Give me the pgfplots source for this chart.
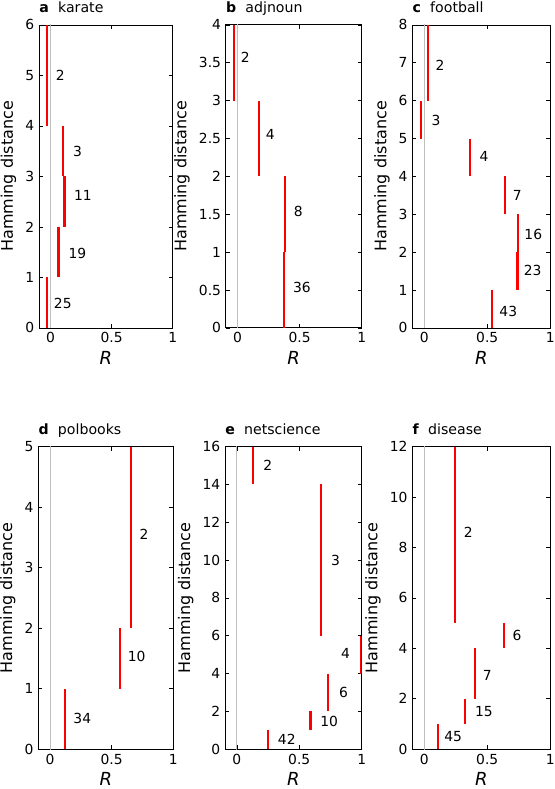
\documentclass[border=0pt]{standalone}
\usepackage{fontspec}
\setmainfont{DejaVu Sans}
\usepackage{pgfplots}
\usepackage{pgfplotstable}
\pgfplotsset{compat=1.18}
\definecolor{zeroline}{RGB}{190,190,190}

% segments: x, lower and upper Hamming distance
% labels: label text, label position
\pgfplotstableread{
x ylo yhi
-0.03 4 6
0.098 3 4
0.114 2 3
0.065 1 2
-0.03 0 1
}\karateseg
\pgfplotstableread{
lab lx ly
2 0.079 5.0
3 0.22 3.5
11 0.265 2.62
19 0.22 1.47
25 0.10 0.48
}\karatelab
\pgfplotstableread{
x ylo yhi
-0.027 3 4
0.175 2 3
0.383 1 2
0.375 0 1
}\adjnounseg
\pgfplotstableread{
lab lx ly
2 0.062 3.57
4 0.263 2.55
8 0.49 1.535
36 0.518 0.537
}\adjnounlab
\pgfplotstableread{
x ylo yhi
0.027 6 8
-0.026 5 6
0.365 4 5
0.64 3 4
0.746 2 3
0.74 1 2
0.54 0 1
}\footballseg
\pgfplotstableread{
lab lx ly
2 0.125 6.94
3 0.093 5.49
4 0.474 4.52
7 0.738 3.49
16 0.865 2.47
23 0.86 1.53
43 0.667 0.43
}\footballlab
\pgfplotstableread{
x ylo yhi
0.654 2 5
0.565 1 2
0.12 0 1
}\polbooksseg
\pgfplotstableread{
lab lx ly
2 0.762 3.55
10 0.703 1.54
34 0.262 0.51
}\polbookslab
\pgfplotstableread{
x ylo yhi
0.131 14 16
0.677 6 14
0.992 4 6
0.73 2 4
0.59 1 2
0.247 0 1
}\netsciseg
\pgfplotstableread{
lab lx ly
2 0.247 15
3 0.79 9.96
4 0.87 5.08
6 0.855 2.99
10 0.74 1.46
42 0.40 0.53
}\netscilab
\pgfplotstableread{
x ylo yhi
0.241 5 12
0.63 4 5
0.405 2 4
0.323 1 2
0.106 0 1
}\diseaseseg
\pgfplotstableread{
lab lx ly
2 0.35 8.59
6 0.736 4.5
7 0.5 2.92
15 0.474 1.48
45 0.23 0.5
}\diseaselab

\pgfplotsset{
  panel/.style={
    scale only axis,
    anchor=south west,
    xmin=-0.095, xmax=1,
    xtick={0,0.5,1},
    xticklabels={0,0.5,1},
    tick align=inside,
    major tick length=3pt,
    axis line style={line width=0.6pt},
    every tick/.style={black, line width=0.5pt},
    /pgf/number format/assume math mode=true,
    tick label style={font=\fontsize{10.4}{12}\selectfont},
    xlabel={\textit{R}},
    xlabel style={font=\fontsize{13.5}{15}\selectfont, yshift=1pt},
    ylabel={Hamming distance},
    ylabel style={font=\fontsize{12}{14}\selectfont},
    every axis title/.style={at={(0,1)}, anchor=base west, yshift=9.2pt,
      inner sep=0pt, font=\fontsize{10.6}{12}\selectfont},
  },
}

\newcommand{\drawpanel}[2]{%
  \addplot[zeroline, line width=0.7pt, no marks] coordinates {(0,-100) (0,100)};
  \addplot[draw=none, mark=none,
    error bars/.cd, y dir=both, y explicit, error mark=none,
    error bar style={draw=red, line width=1.6pt}]
    table[x=x, y expr={(\thisrow{ylo}+\thisrow{yhi})/2},
          y error expr={(\thisrow{yhi}-\thisrow{ylo})/2}] {#1};
  \addplot[draw=none, mark=none, nodes near coords, point meta=explicit symbolic,
    nodes near coords style={anchor=center, black, inner sep=0pt,
      font=\fontsize{10.4}{12}\selectfont}]
    table[x=lx, y=ly, meta=lab] {#2};
}

\begin{document}
\begin{tikzpicture}
\path[use as bounding box] (0,0) rectangle (415.5pt,591.75pt);

\begin{axis}[panel, at={(29.25pt,345.75pt)}, width=100.3pt, height=227.25pt,
  ymin=0, ymax=6, ytick={0,1,...,6}, title={\textbf{a}\hspace{7pt}karate}]
\drawpanel{\karateseg}{\karatelab}
\end{axis}

\begin{axis}[panel, at={(169.3pt,345.75pt)}, width=102pt, height=227.25pt,
  ymin=0, ymax=4, ytick={0,0.5,...,4}, title={\textbf{b}\hspace{7pt}adjnoun}]
\drawpanel{\adjnounseg}{\adjnounlab}
\end{axis}

\begin{axis}[panel, at={(309.2pt,345.75pt)}, width=103.5pt, height=227.25pt,
  ymin=0, ymax=8, ytick={0,1,...,8}, title={\textbf{c}\hspace{7pt}football}]
\drawpanel{\footballseg}{\footballlab}
\end{axis}

\begin{axis}[panel, at={(28.7pt,29.8pt)}, width=101.25pt, height=227pt,
  ymin=0, ymax=5, ytick={0,1,...,5}, title={\textbf{d}\hspace{7pt}polbooks}]
\drawpanel{\polbooksseg}{\polbookslab}
\end{axis}

\begin{axis}[panel, at={(168.75pt,29.8pt)}, width=102.5pt, height=227pt,
  ymin=0, ymax=16, ytick={0,2,...,16}, title={\textbf{e}\hspace{7pt}netscience}]
\drawpanel{\netsciseg}{\netscilab}
\end{axis}

\begin{axis}[panel, at={(309.2pt,29.8pt)}, width=103.5pt, height=227pt,
  ymin=0, ymax=12, ytick={0,2,...,12}, title={\textbf{f}\hspace{7pt}disease}]
\drawpanel{\diseaseseg}{\diseaselab}
\end{axis}
\end{tikzpicture}
\end{document}
